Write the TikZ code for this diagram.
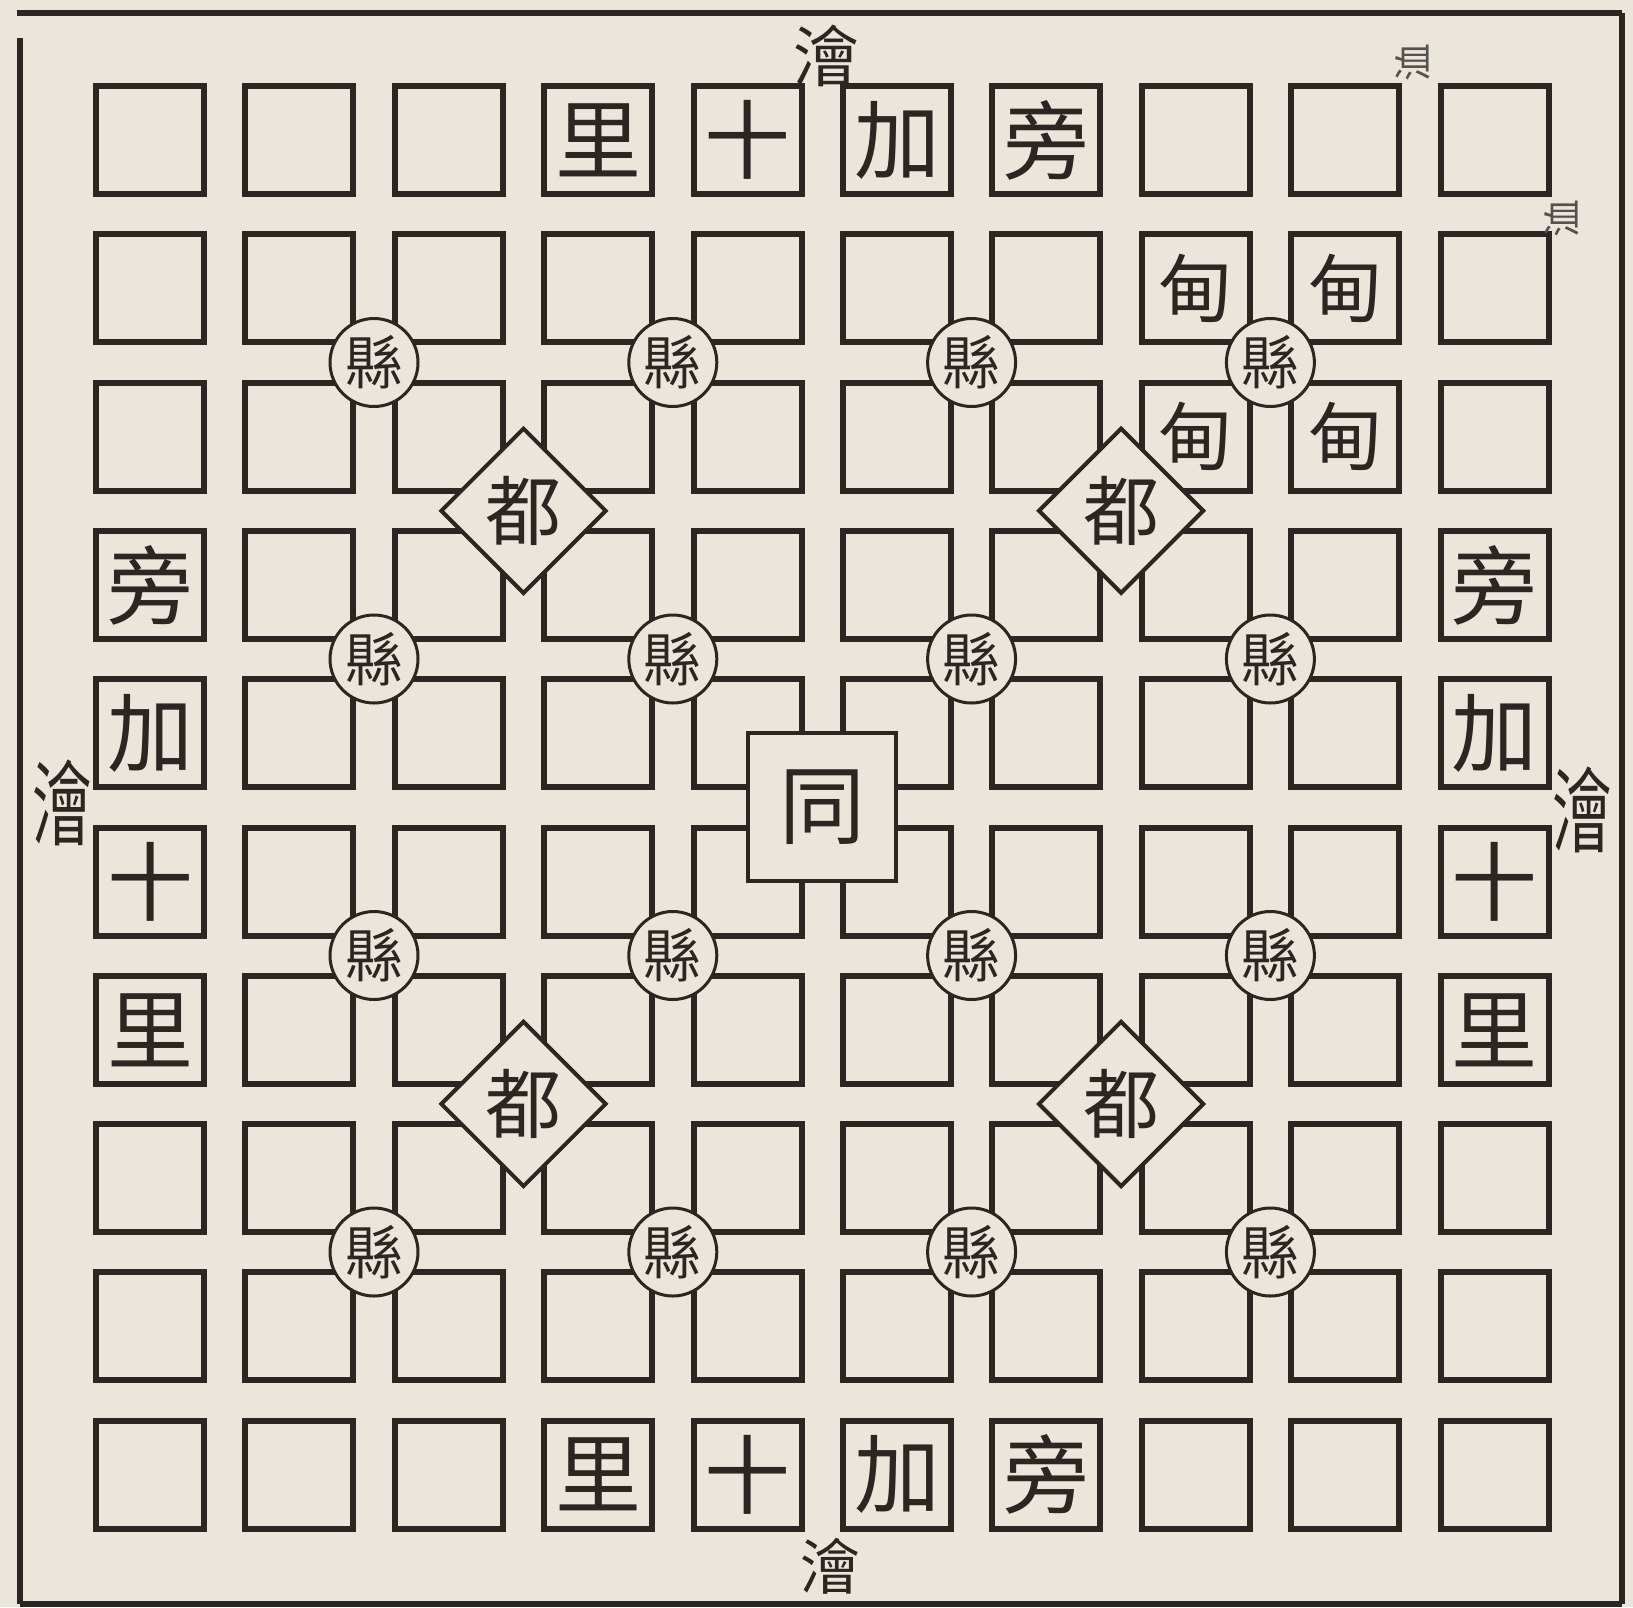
\documentclass[tikz,border=0pt]{standalone}
\usepackage{fontspec}
\newfontfamily\cjk{Noto Sans CJK TC}
\usetikzlibrary{shapes.geometric}
\definecolor{paper}{HTML}{EAE6DC}
\definecolor{ink}{HTML}{2B2621}
\tikzset{
  cell/.style={draw=ink, line width=6, minimum size=108, inner sep=0, text=ink, font=\cjk\fontsize{86}{86}\selectfont},
  xian/.style={circle, draw=ink, fill=paper, line width=3, minimum size=88, inner sep=0, text=ink, font=\cjk\fontsize{58}{58}\selectfont},
  du/.style={diamond, draw=ink, fill=paper, line width=4, minimum size=166, inner sep=0, text=ink, font=\cjk\fontsize{76}{76}\selectfont},
  tong/.style={draw=ink, fill=paper, line width=4, minimum size=148, inner sep=0, text=ink, font=\cjk\fontsize{86}{86}\selectfont},
  dian/.style={text=ink, inner sep=0, font=\cjk\fontsize{74}{74}\selectfont},
  side/.style={text=ink, inner sep=0, font=\cjk\fontsize{66}{66}\selectfont},
  tallside/.style={text=ink, inner sep=0, xscale=0.65, font=\cjk\fontsize{92}{92}\selectfont},
  tiny/.style={text=ink!80, inner sep=0, font=\cjk\fontsize{38}{38}\selectfont},
  frame/.style={draw=ink, line width=5.5}
}
\begin{document}
\begin{tikzpicture}[x=1pt,y=-1pt]
\fill[paper] (0,0) rectangle (1633,1607);
\useasboundingbox (0,0) rectangle (1633,1607);
% outer frame
\draw[frame] (17,13) -- (1622,13);
\draw[frame] (1622,13) -- (1622,1604);
\draw[frame] (20,1604) -- (1622,1604);
\draw[frame] (20,38) -- (20,1604);
% grid of cells
\foreach \i in {0,...,9}{
  \foreach \j in {0,...,9}{
    \node[cell] (c-\i-\j) at ({150+149.4*\i},{140+148.3*\j}) {};
  }
}
% texts in the cells
\node[cell, draw=none] (t-3-0) at (c-3-0) {里};
\node[cell, draw=none] (t-4-0) at (c-4-0) {十};
\node[cell, draw=none] (t-5-0) at (c-5-0) {加};
\node[cell, draw=none] (t-6-0) at (c-6-0) {旁};
\node[cell, draw=none] (t-3-9) at (c-3-9) {里};
\node[cell, draw=none] (t-4-9) at (c-4-9) {十};
\node[cell, draw=none] (t-5-9) at (c-5-9) {加};
\node[cell, draw=none] (t-6-9) at (c-6-9) {旁};
\node[cell, draw=none] (t-0-3) at (c-0-3) {旁};
\node[cell, draw=none] (t-0-4) at (c-0-4) {加};
\node[cell, draw=none] (t-0-5) at (c-0-5) {十};
\node[cell, draw=none] (t-0-6) at (c-0-6) {里};
\node[cell, draw=none] (t-9-3) at (c-9-3) {旁};
\node[cell, draw=none] (t-9-4) at (c-9-4) {加};
\node[cell, draw=none] (t-9-5) at (c-9-5) {十};
\node[cell, draw=none] (t-9-6) at (c-9-6) {里};
% dian
\node[dian] (d1) at (c-7-1) {甸};
\node[dian] (d2) at (c-8-1) {甸};
\node[dian] (d3) at (c-7-2) {甸};
\node[dian] (d4) at (c-8-2) {甸};
% xian circles
\foreach \a/\x in {1/374,3/672.8,5/971.6,7/1270.4}{
  \foreach \b/\y in {1/362.5,3/659,5/955.5,7/1252}{
    \node[xian] (x-\a-\b) at (\x,\y) {縣};
  }
}
% du diamonds
\node[du] (du-1) at (523.5,510.75) {都};
\node[du] (du-2) at (1121.1,510.75) {都};
\node[du] (du-3) at (523.5,1103.95) {都};
\node[du] (du-4) at (1121.1,1103.95) {都};
% centre
\node[tong] (tong) at (822.3,807.35) {同};
% side labels
\node[side] (kuai-t) at (826,56) {澮};
\node[side, font=\cjk\fontsize{60}{60}\selectfont] (kuai-b) at (830,1566) {澮};
\node[tallside] (kuai-l) at (62,803) {澮};
\node[tallside] (kuai-r) at (1582,810) {澮};
\node[tiny, rotate=90] (xu-1) at (1413,62) {洫};
\node[tiny, rotate=90] (xu-2) at (1562,218) {洫};
\end{tikzpicture}
\end{document}
